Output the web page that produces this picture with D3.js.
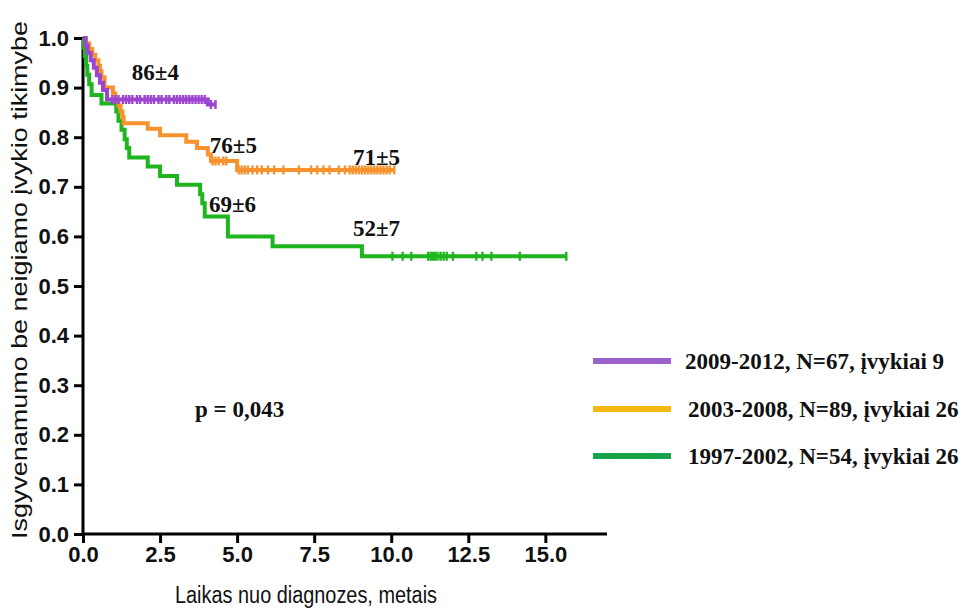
<!DOCTYPE html>
<html><head><meta charset="utf-8">
<script src="https://cdn.jsdelivr.net/npm/d3@7"></script>
<style>body{margin:0;background:#fff}svg{display:block}</style>
</head><body><svg id="c" width="965" height="610"></svg>
<script>
// ---- data ----
const xTicks = [0, 2.5, 5, 7.5, 10, 12.5, 15];
const yTicks = [0, 0.1, 0.2, 0.3, 0.4, 0.5, 0.6, 0.7, 0.8, 0.9, 1.0];

const purpleTimes = [0, 0.08, 0.15, 0.25, 0.35, 0.45, 0.55, 0.65, 0.78, 4.05];
const purpleSurv  = [1.0, 0.985, 0.97, 0.955, 0.94, 0.925, 0.91, 0.895, 0.876, 0.866];
const purpleEnd = 4.3;
const purpleCensor = [0.95,1.05,1.15,1.3,1.4,1.5,1.6,1.75,1.85,2.0,2.1,2.2,2.3,2.45,2.55,2.7,2.8,2.95,3.05,3.15,3.25,3.35,3.45,3.55,3.65,3.75,3.85,3.95,4.15,4.3];

const orangeTimes = [0, 0.1, 0.2, 0.3, 0.4, 0.5, 0.55, 0.6, 0.7, 0.97, 1.05, 1.15, 1.22, 1.28, 1.32, 2.1, 2.5, 3.35, 3.7, 4.05, 4.15, 5.0];
const orangeSurv  = [1.0, 0.989, 0.978, 0.966, 0.955, 0.944, 0.933, 0.921, 0.90, 0.888, 0.876, 0.864, 0.852, 0.840, 0.828, 0.817, 0.804, 0.791, 0.778, 0.765, 0.752, 0.734];
const orangeEnd = 10.1;
const orangeCensor = [4.2,4.3,4.4,4.55,4.65,5.05,5.15,5.25,5.35,5.5,5.65,5.8,6.0,6.2,6.5,7.0,7.4,7.6,7.8,8.0,8.3,8.5,8.65,8.75,8.85,8.95,9.05,9.15,9.25,9.35,9.45,9.55,9.65,9.75,9.85,9.95,10.1];

const greenTimes = [0, 0.03, 0.06, 0.1, 0.14, 0.2, 0.28, 0.6, 1.08, 1.15, 1.25, 1.35, 1.42, 1.5, 2.1, 2.5, 3.05, 3.8, 3.87, 3.95, 4.7, 6.15, 9.05];
const greenSurv  = [1.0, 0.981, 0.963, 0.944, 0.926, 0.907, 0.885, 0.868, 0.852, 0.833, 0.815, 0.796, 0.778, 0.759, 0.741, 0.722, 0.704, 0.685, 0.667, 0.640, 0.600, 0.580, 0.560];
const greenEnd = 15.7;
const greenCensor = [10.04,10.37,10.65,11.2,11.28,11.35,11.42,11.5,11.6,11.7,11.8,12.0,12.76,12.96,13.25,14.17,15.68];

const annoText = ["86±4", "76±5", "71±5", "69±6", "52±7"];
const annoT    = [2.35, 4.88, 9.52, 4.85, 9.52];
const annoS    = [0.915, 0.768, 0.744, 0.649, 0.600];

const legendLabels = ["2009-2012, N=67, įvykiai 9", "2003-2008, N=89, įvykiai 26", "1997-2002, N=54, įvykiai 26"];
const legendColors = ["#9b62cc", "#f5b711", "#16a34a"];
const lineColors = ["#9b45d0", "#f7922d", "#1fb51f"];

// ---- chart ----
const svg = d3.select("#c");
const x = d3.scaleLinear().domain([0, 17]).range([83, 607]);
const y = d3.scaleLinear().domain([0, 1]).range([534, 38]);

const axisFont = "'Liberation Sans', Arial, sans-serif";
const serif = "'Liberation Serif', 'Times New Roman', serif";

// axes
const gx = svg.append("g").attr("transform", "translate(0,534)")
  .call(d3.axisBottom(x).tickValues(xTicks).tickSize(9).tickPadding(3).tickFormat(d3.format(".1f")));
const gy = svg.append("g").attr("transform", "translate(83,0)")
  .call(d3.axisLeft(y).tickValues(yTicks).tickSize(9).tickPadding(5).tickFormat(d3.format(".1f")));
[gx, gy].forEach(g => {
  g.select(".domain").attr("stroke", "#000").attr("stroke-width", 3);
  g.selectAll(".tick line").attr("stroke", "#000").attr("stroke-width", 3);
  g.selectAll(".tick text").attr("fill", "#111").attr("font-family", axisFont)
    .attr("font-weight", "bold").attr("font-size", 22);
});
gx.select(".domain").attr("d", `M${x(0)},0H${x(17)}`);
gy.select(".domain").attr("d", `M0,${y(1)}V${y(0)}`);

// titles
svg.append("text").attr("x", 306).attr("y", 603).attr("text-anchor", "middle")
  .attr("font-family", axisFont).attr("font-size", 23).attr("fill", "#111")
  .attr("textLength", 262).attr("lengthAdjust", "spacingAndGlyphs")
  .text("Laikas nuo diagnozes, metais");
svg.append("text").attr("transform", "translate(27,280) rotate(-90)").attr("text-anchor", "middle")
  .attr("font-family", axisFont).attr("font-size", 22).attr("fill", "#111")
  .attr("textLength", 518).attr("lengthAdjust", "spacingAndGlyphs")
  .text("Isgyvenamumo be neigiamo įvykio tikimybe");

// curves
function stepValue(times, surv, t) {
  let v = surv[0];
  for (let i = 0; i < times.length; i++) if (times[i] <= t) v = surv[i];
  return v;
}
const line = d3.line().x(d => x(d[0])).y(d => y(d[1])).curve(d3.curveStepAfter);
const series = [
  {times: greenTimes, surv: greenSurv, end: greenEnd, censor: greenCensor, color: lineColors[2]},
  {times: orangeTimes, surv: orangeSurv, end: orangeEnd, censor: orangeCensor, color: lineColors[1]},
  {times: purpleTimes, surv: purpleSurv, end: purpleEnd, censor: purpleCensor, color: lineColors[0]},
];
series.forEach(s => {
  const pts = s.times.map((t, i) => [t, s.surv[i]]);
  pts.push([s.end, s.surv[s.surv.length - 1]]);
  svg.append("path").attr("d", line(pts)).attr("fill", "none")
    .attr("stroke", s.color).attr("stroke-width", 4);
  svg.append("g").selectAll("line").data(s.censor).join("line")
    .attr("x1", d => x(d)).attr("x2", d => x(d))
    .attr("y1", d => y(stepValue(s.times, s.surv, d)) - 4.5)
    .attr("y2", d => y(stepValue(s.times, s.surv, d)) + 4.5)
    .attr("stroke", s.color).attr("stroke-width", 2.4);
});

// annotations
svg.append("g").selectAll("text").data(annoText).join("text")
  .attr("x", (d, i) => x(annoT[i])).attr("y", (d, i) => y(annoS[i]))
  .attr("text-anchor", "middle").attr("font-family", serif).attr("font-weight", "bold")
  .attr("font-size", 23).attr("fill", "#111").text(d => d);

svg.append("text").attr("x", 195).attr("y", 417).attr("font-family", serif)
  .attr("font-weight", "bold").attr("font-size", 23).attr("fill", "#111").text("p = 0,043");

// legend
const legRowY = [361, 409, 456];
const legTextX = [685, 688, 688];
const lg = svg.append("g");
legendLabels.forEach((lab, i) => {
  lg.append("line").attr("x1", 593).attr("x2", 671).attr("y1", legRowY[i]).attr("y2", legRowY[i])
    .attr("stroke", legendColors[i]).attr("stroke-width", 6);
  lg.append("text").attr("x", legTextX[i]).attr("y", legRowY[i] + 8)
    .attr("font-family", serif).attr("font-weight", "bold").attr("font-size", 23)
    .attr("fill", "#111").text(lab);
});
</script></body></html>
